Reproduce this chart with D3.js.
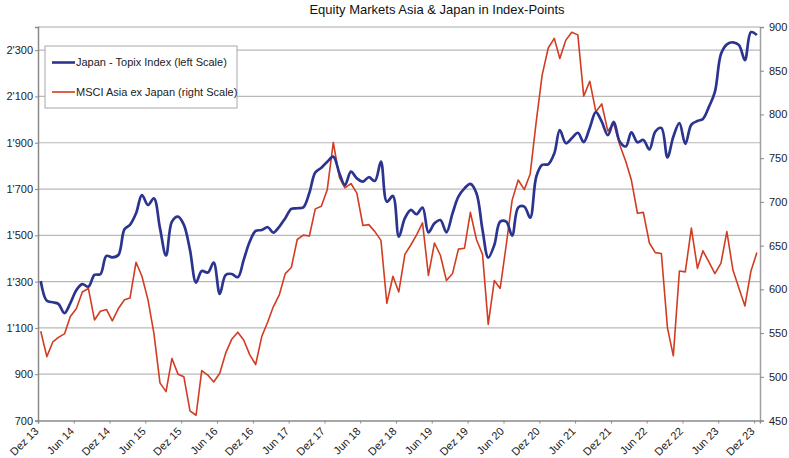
<!DOCTYPE html>
<html>
<head>
<meta charset="utf-8">
<script src="https://cdn.jsdelivr.net/npm/d3@7"></script>
<style>
  body { margin: 0; background: #fff; }
  svg { display: block; font-family: "Liberation Sans", Arial, sans-serif; }
</style>
</head>
<body>
<svg id="chart" width="789" height="458"></svg>
<script>
// monthly values, Dec 2013 .. Dec 2023
const topix = [
  1303, 1217, 1211, 1204, 1164, 1207, 1264, 1289, 1278, 1329, 1332, 1411,
  1405, 1415, 1526, 1545, 1595, 1674, 1631, 1660, 1531, 1412, 1559, 1581,
  1545, 1437, 1296, 1346, 1339, 1382, 1247, 1329, 1333, 1319, 1394, 1473,
  1519, 1523, 1535, 1512, 1538, 1574, 1614, 1617, 1621, 1684, 1771, 1792,
  1818, 1840, 1768, 1717, 1775, 1746, 1732, 1751, 1735, 1818, 1645, 1670,
  1494, 1574, 1610, 1591, 1620, 1513, 1552, 1566, 1513, 1595, 1667, 1703,
  1722, 1682, 1523, 1404, 1458, 1559, 1559, 1499, 1620, 1624, 1576, 1753,
  1804, 1807, 1854, 1955, 1898, 1919, 1943, 1903, 1965, 2032, 1991, 1933,
  1990, 1904, 1884, 1945, 1902, 1912, 1871, 1948, 1964, 1837, 1926, 1985,
  1895, 1978, 1994, 2003, 2056, 2120, 2283, 2325, 2334, 2322, 2257, 2378,
  2365
];
const msci = [
  552, 523, 540, 545, 549, 569, 578, 597, 601, 565, 575, 577,
  564, 578, 588, 590, 631, 615, 588, 550, 493, 483, 521, 503,
  500, 461, 456, 507, 502, 494, 504, 527, 543, 551, 542, 525,
  514, 546, 563, 580, 594, 618, 625, 657, 662, 661, 692, 695,
  714, 768, 728, 716, 721, 710, 673, 674, 666, 656, 584, 615,
  597, 640, 651, 662, 676, 616, 653, 639, 610, 618, 646, 647,
  688, 657, 640, 560, 610, 601, 651, 702, 725, 714, 732, 792,
  845, 876, 887, 864, 885, 894, 891, 821, 838, 803, 812, 781,
  790, 765, 746, 725, 687, 688, 653, 642, 641, 556, 524, 621,
  620, 670, 624, 644, 631, 618, 630, 666, 622, 601, 581, 621,
  642
];
const xLabels = [
  'Dez 13', 'Jun 14', 'Dez 14', 'Jun 15', 'Dez 15', 'Jun 16', 'Dez 16',
  'Jun 17', 'Dez 17', 'Jun 18', 'Dez 18', 'Jun 19', 'Dez 19', 'Jun 20',
  'Dez 20', 'Jun 21', 'Dez 21', 'Jun 22', 'Dez 22', 'Jun 23', 'Dez 23'
];
const leftTicks = [700, 900, 1100, 1300, 1500, 1700, 1900, 2100, 2300];
const rightTicks = [450, 500, 550, 600, 650, 700, 750, 800, 850, 900];
const seriesNames = ['Japan - Topix Index (left Scale)', 'MSCI Asia ex Japan (right Scale)'];

const blue = '#2b3590';
const red = '#d23c22';

const svg = d3.select('#chart');
const plotL = 38, plotR = 760, plotT = 27, plotB = 420.5;

// points sit mid-month, ticks on the 1st
const start = new Date(2013, 11, 1);
const pointDate = (i) => d3.timeDay.offset(d3.timeMonth.offset(start, i), 14);
const tickDates = xLabels.map((d, i) => d3.timeMonth.offset(start, 6 * i));

const x = d3.scaleTime()
  .domain([start, new Date(2023, 11, 31)])
  .range([plotL, plotR]);
const yL = d3.scaleLinear().domain([700, 2400]).range([plotB, plotT]);
const yR = d3.scaleLinear().domain([450, 900]).range([plotB, plotT]);

const swiss = d3.formatLocale({ decimal: '.', thousands: "'", grouping: [3], currency: ['', ''] });
const fmt = swiss.format(',d');

// grid
svg.append('g')
  .selectAll('line')
  .data(leftTicks.slice(1))
  .join('line')
  .attr('x1', plotL).attr('x2', plotR)
  .attr('y1', (d) => yL(d)).attr('y2', (d) => yL(d))
  .attr('stroke', '#b9b9b9')
  .attr('stroke-width', 1.2);

// frame top
svg.append('line')
  .attr('x1', plotL).attr('x2', plotR)
  .attr('y1', plotT).attr('y2', plotT)
  .attr('stroke', '#a8a8a8');

// left axis
const axL = svg.append('g')
  .attr('transform', `translate(${plotL},0)`)
  .call(d3.axisLeft(yL).tickValues(leftTicks).tickFormat(fmt).tickSizeOuter(0).tickSize(3).tickPadding(2));
axL.select('.domain').attr('stroke', '#8a8a8a').attr('stroke-width', 1.5);

// right axis
const axR = svg.append('g')
  .attr('transform', `translate(${plotR},0)`)
  .call(d3.axisRight(yR).tickValues(rightTicks).tickSizeOuter(0).tickSize(4).tickPadding(5));
axR.select('.domain').attr('stroke', '#a0a0a0').attr('stroke-width', 1.5);

// bottom axis
const axB = svg.append('g')
  .attr('transform', `translate(0,${plotB})`)
  .call(d3.axisBottom(x).tickValues(tickDates).tickFormat((d, i) => xLabels[i]).tickSizeOuter(0).tickSize(3));
axB.select('.domain').attr('stroke', '#8a8a8a').attr('stroke-width', 1.5);
axB.selectAll('text')
  .attr('text-anchor', 'end')
  .attr('dx', 0)
  .attr('dy', '0.5em')
  .attr('transform', 'rotate(-45)')
  .attr('y', 3)
  .attr('x', -7.5);

svg.selectAll('.tick line').attr('stroke', '#8a8a8a');
svg.selectAll('.tick text')
  .attr('fill', '#222')
  .style('font-size', '11px');

// series
const lineL = d3.line()
  .x((d, i) => x(pointDate(i)))
  .y((d) => yL(d))
  .curve(d3.curveCatmullRom.alpha(0.5));
const lineR = d3.line()
  .x((d, i) => x(pointDate(i)))
  .y((d) => yR(d));

svg.append('path')
  .datum(msci)
  .attr('fill', 'none')
  .attr('stroke', red)
  .attr('stroke-width', 1.6)
  .attr('stroke-linejoin', 'round')
  .attr('d', lineR);

svg.append('path')
  .datum(topix)
  .attr('fill', 'none')
  .attr('stroke', blue)
  .attr('stroke-width', 2.7)
  .attr('stroke-linejoin', 'round')
  .attr('d', lineL);

// legend
const lg = svg.append('g');
lg.append('rect')
  .attr('x', 45).attr('y', 46)
  .attr('width', 192).attr('height', 62)
  .attr('fill', '#fff')
  .attr('stroke', '#a8a8a8');
const items = lg.selectAll('g.item')
  .data(seriesNames)
  .join('g')
  .attr('transform', (d, i) => `translate(52,${62.5 + i * 29.5})`);
items.append('line')
  .attr('x1', 0).attr('x2', 23)
  .attr('stroke', (d, i) => (i === 0 ? blue : red))
  .attr('stroke-width', (d, i) => (i === 0 ? 2.6 : 1.6));
items.append('text')
  .attr('x', 24)
  .attr('dy', '0.35em')
  .attr('fill', '#222')
  .style('font-size', '11px')
  .text((d) => d);

// title
svg.append('text')
  .attr('x', 437)
  .attr('y', 14)
  .attr('text-anchor', 'middle')
  .attr('fill', '#111')
  .style('font-size', '13px')
  .text('Equity Markets Asia & Japan in Index-Points');
</script>
</body>
</html>
